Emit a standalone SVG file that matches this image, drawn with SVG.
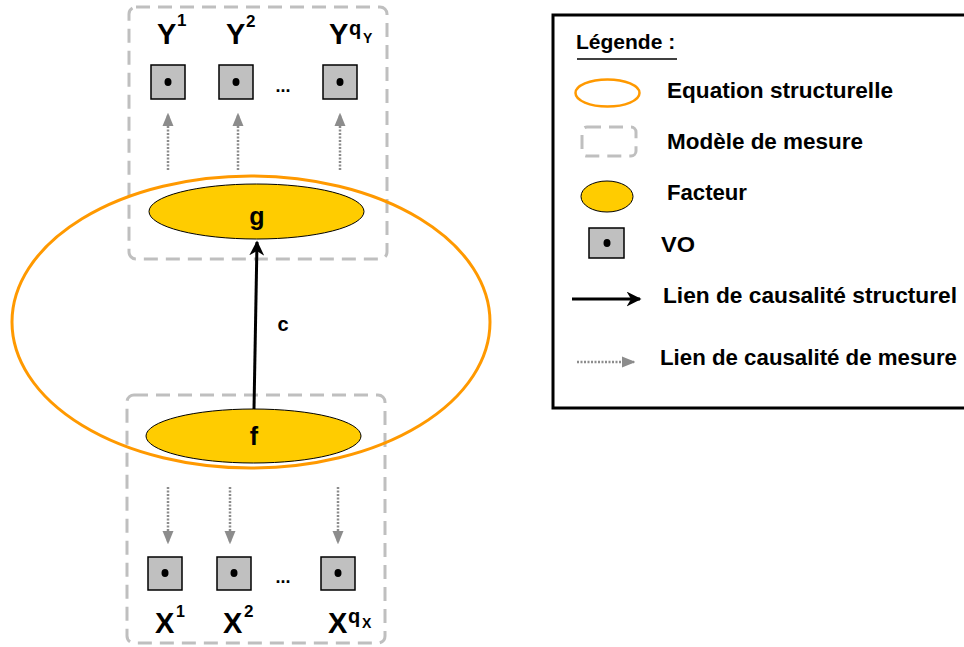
<svg xmlns="http://www.w3.org/2000/svg" width="964" height="647" viewBox="0 0 964 647">
<defs>
<style>
.t{font-family:"Liberation Sans",Arial,sans-serif;font-weight:bold;fill:#000}
.mm{fill:none;stroke:#BFBFBF;stroke-width:3;stroke-dasharray:14 8}
.eq{fill:none;stroke:#FF9900;stroke-width:3}
.fac{fill:#FFCC00;stroke:#000;stroke-width:1}
.vo{fill:#C0C0C0;stroke:#000;stroke-width:1.5}
.dot{fill:#000}
.ml{stroke:#8C8C8C;stroke-width:2.5;stroke-dasharray:2 1.5;fill:none}
.sl{stroke:#000;stroke-width:3;fill:none}
.lg{font-size:22px}
</style>
<marker id="ah" viewBox="0 0 10 10" refX="9" refY="5" markerWidth="5" markerHeight="5" orient="auto" markerUnits="strokeWidth"><path d="M0,0 L10,5 L0,10 L3,5 z" fill="#000"/></marker>
<marker id="gh" viewBox="0 0 10 10" refX="9" refY="5" markerWidth="5.5" markerHeight="4.5" orient="auto" markerUnits="strokeWidth" preserveAspectRatio="none"><path d="M0,0 L10,5 L0,10 z" fill="#8C8C8C"/></marker>
</defs>

<g id="measureY"><rect class="mm" x="129" y="7" width="258" height="252" rx="7"/></g>
<g id="measureX"><rect class="mm" x="127" y="395" width="258" height="248" rx="7"/></g>
<g id="equation"><ellipse class="eq" cx="251" cy="322" rx="239" ry="146"/></g>

<g id="connectors">
<line class="sl" x1="254" y1="409" x2="257" y2="242" marker-end="url(#ah)"/>
<line class="ml" x1="168" y1="170" x2="168" y2="114" marker-end="url(#gh)"/>
<line class="ml" x1="238" y1="170" x2="238" y2="114" marker-end="url(#gh)"/>
<line class="ml" x1="340" y1="170" x2="340" y2="114" marker-end="url(#gh)"/>
<line class="ml" x1="168" y1="487" x2="168" y2="543" marker-end="url(#gh)"/>
<line class="ml" x1="230" y1="487" x2="230" y2="543" marker-end="url(#gh)"/>
<line class="ml" x1="338" y1="487" x2="338" y2="543" marker-end="url(#gh)"/>
</g>
<text class="t" x="283" y="331" font-size="20" text-anchor="middle">c</text>

<g id="g"><ellipse class="fac" cx="256.5" cy="211.5" rx="107.5" ry="27.5"/><text class="t" x="257" y="225" font-size="25" text-anchor="middle">g</text></g>
<g id="f"><ellipse class="fac" cx="253.5" cy="436" rx="107.5" ry="27"/><text class="t" x="254" y="445" font-size="25" text-anchor="middle">f</text></g>

<g id="Y1"><rect class="vo" x="151" y="65" width="34" height="34"/><ellipse class="dot" cx="168" cy="82" rx="3.5" ry="4"/><text class="t" x="157" y="44" font-size="29">Y</text><text class="t" x="177" y="26" font-size="17">1</text></g>
<g id="Y2"><rect class="vo" x="219" y="65" width="34" height="34"/><ellipse class="dot" cx="236" cy="82" rx="3.5" ry="4"/><text class="t" x="226" y="44" font-size="29">Y</text><text class="t" x="246" y="27" font-size="17">2</text></g>
<g id="YqY"><rect class="vo" x="323" y="65" width="34" height="34"/><ellipse class="dot" cx="340" cy="82" rx="3.5" ry="4"/><text class="t" x="329" y="44" font-size="29">Y</text><text class="t" x="349" y="35" font-size="20">q</text><text class="t" x="363" y="43" font-size="14">Y</text></g>
<text class="t" x="283" y="92" font-size="18" text-anchor="middle">...</text>

<g id="X1"><rect class="vo" x="148" y="557" width="34" height="33"/><ellipse class="dot" cx="165" cy="573" rx="3.5" ry="4"/><text class="t" x="155" y="633" font-size="29">X</text><text class="t" x="176" y="617" font-size="16">1</text></g>
<g id="X2"><rect class="vo" x="217" y="557" width="34" height="33"/><ellipse class="dot" cx="234" cy="573" rx="3.5" ry="4"/><text class="t" x="223" y="633" font-size="29">X</text><text class="t" x="244" y="617" font-size="17">2</text></g>
<g id="XqX"><rect class="vo" x="321" y="557" width="34" height="33"/><ellipse class="dot" cx="338" cy="573" rx="3.5" ry="4"/><text class="t" x="328" y="633" font-size="29">X</text><text class="t" x="348" y="623" font-size="20">q</text><text class="t" x="362" y="628" font-size="14">X</text></g>
<text class="t" x="283" y="583" font-size="18" text-anchor="middle">...</text>

<g id="legend">
<rect x="553" y="15" width="420" height="393" fill="#fff" stroke="#000" stroke-width="3"/>
<text class="t" x="576" y="49" font-size="21">Légende :</text>
<line x1="577" y1="59" x2="677" y2="59" stroke="#000" stroke-width="1.5"/>
<ellipse cx="607.5" cy="93" rx="32" ry="13.5" fill="none" stroke="#FF9900" stroke-width="2.5"/>
<text class="t lg" x="667" y="98" textLength="226" lengthAdjust="spacingAndGlyphs">Equation structurelle</text>
<rect class="mm" x="582" y="127" width="54" height="29" rx="5" stroke-dasharray="12 6"/>
<text class="t lg" x="667" y="149" textLength="196" lengthAdjust="spacingAndGlyphs">Modèle de mesure</text>
<ellipse class="fac" cx="607" cy="196.5" rx="26" ry="15.5"/>
<text class="t lg" x="667" y="200" textLength="80" lengthAdjust="spacingAndGlyphs">Facteur</text>
<rect class="vo" x="589" y="228" width="35" height="30"/><ellipse class="dot" cx="607" cy="243" rx="3.5" ry="4"/>
<text class="t lg" x="661" y="252" textLength="34" lengthAdjust="spacingAndGlyphs">VO</text>
<line class="sl" x1="572" y1="299" x2="640" y2="299" marker-end="url(#ah)"/>
<text class="t lg" x="663" y="303" textLength="294" lengthAdjust="spacingAndGlyphs">Lien de causalité structurel</text>
<line class="ml" x1="577" y1="362" x2="634" y2="362" marker-end="url(#gh)"/>
<text class="t lg" x="660" y="365" textLength="297" lengthAdjust="spacingAndGlyphs">Lien de causalité de mesure</text>
</g>
</svg>
